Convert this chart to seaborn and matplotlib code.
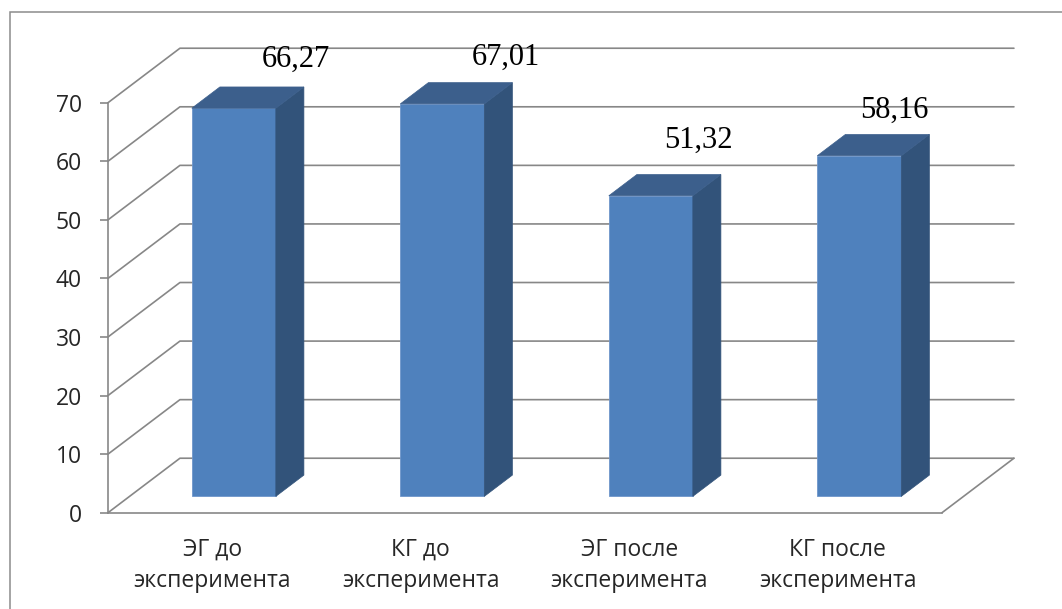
import matplotlib
matplotlib.use("Agg")
import matplotlib.pyplot as plt
from matplotlib.patches import Polygon, Rectangle
from matplotlib.transforms import Affine2D
import seaborn as sns
import pandas as pd

# Data
categories = ["ЭГ до\nэксперимента", "КГ до\nэксперимента",
              "ЭГ после\nэксперимента", "КГ после\nэксперимента"]
scores = [66.27, 67.01, 51.32, 58.16]
y_ticks = [0, 10, 20, 30, 40, 50, 60, 70]

# Styling
FRONT = "#4F81BD"
SIDE = "#32537A"
TOP = "#3C5F8C"
GRID = "#878787"

sns.set_style("white")
plt.rcParams["font.family"] = ["Open Sans", "DejaVu Sans"]

W, H = 1062, 609
fig = plt.figure(figsize=(W / 100, H / 100), dpi=100)
ax = fig.add_axes([108 / W, (H - 512.7) / H, 834 / W, 410 / H])

# Oblique depth of the floor/back wall, in data units
DX, DY = 0.345, 9.3
GAP = 0.30      # depth position of the front faces
DEPTH = 0.39    # depth of each column
BAR_W = 0.403

df = pd.DataFrame({"group": categories, "score": scores})
sns.barplot(data=df, x="group", y="score", width=BAR_W, color=FRONT,
            saturation=1, edgecolor="#6E96CB", linewidth=0.6, ax=ax, zorder=3)

# Back wall gridlines with the left-wall diagonals
for v in y_ticks:
    ax.plot([-0.5, -0.5 + DX, 3.5 + DX], [v, v + DY, v + DY],
            color=GRID, lw=1.2, clip_on=False, zorder=1)
# right edge of the floor
ax.plot([3.5, 3.5 + DX], [0, DY], color=GRID, lw=1.2, clip_on=False, zorder=1)

# Turn flat bars into columns
shift = Affine2D().translate(GAP * DX, GAP * DY) + ax.transData
ddx, ddy = DEPTH * DX, DEPTH * DY
for p in ax.patches[:len(scores)]:
    p.set_transform(shift)
    p.set_clip_on(False)
    x0 = p.get_x() + GAP * DX
    w = p.get_width()
    h = p.get_height()
    y0 = GAP * DY
    side = Polygon([(x0 + w, y0), (x0 + w + ddx, y0 + ddy),
                    (x0 + w + ddx, y0 + h + ddy), (x0 + w, y0 + h)],
                   closed=True, facecolor=SIDE, edgecolor=SIDE, lw=0.5,
                   zorder=3, clip_on=False)
    top = Polygon([(x0, y0 + h), (x0 + w, y0 + h),
                   (x0 + w + ddx, y0 + h + ddy), (x0 + ddx, y0 + h + ddy)],
                  closed=True, facecolor=TOP, edgecolor=TOP, lw=0.5,
                  zorder=3, clip_on=False)
    ax.add_patch(side)
    ax.add_patch(top)

# Value labels
label_dx = [0.40, 0.41, 0.33, 0.27]
label_dy = [9.9, 9.4, 11.0, 9.2]
for i, v in enumerate(scores):
    ax.text(i + label_dx[i], v + label_dy[i], f"{v:.2f}".replace(".", ","),
            family="Liberation Serif", fontsize=22, ha="center",
            va="baseline", color="black", zorder=5, clip_on=False)

# Axes
ax.set_xlim(-0.5, 3.5)
ax.set_ylim(0, 70)
ax.set_yticks(y_ticks)
ax.set_yticklabels([str(t) for t in y_ticks])
ax.set_xlabel("")
ax.set_ylabel("")
ax.set_xticks([-0.5, 0.5, 1.5, 2.5, 3.5], minor=True)
ax.tick_params(axis="x", which="major", length=0, pad=18, labelsize=16.5)
ax.tick_params(axis="x", which="minor", length=5.2, width=1.2, color=GRID,
               direction="out")
ax.tick_params(axis="y", which="major", length=5.8, width=1.2, color=GRID,
               pad=13, labelsize=16.5, direction="out", left=True)
for lbl in ax.get_xticklabels():
    lbl.set_linespacing(1.38)
for s in ["top", "right"]:
    ax.spines[s].set_visible(False)
for s in ["left", "bottom"]:
    ax.spines[s].set_color(GRID)
    ax.spines[s].set_linewidth(1.2)
ax.patch.set_alpha(0)

# Outer chart frame
fig.add_artist(Rectangle((10 / W, -0.1), 1.2, (H - 12) / H + 0.1,
                         transform=fig.transFigure, fill=False,
                         edgecolor="#8C8C8C", lw=1.1))

fig.savefig("out.png", dpi=100)
